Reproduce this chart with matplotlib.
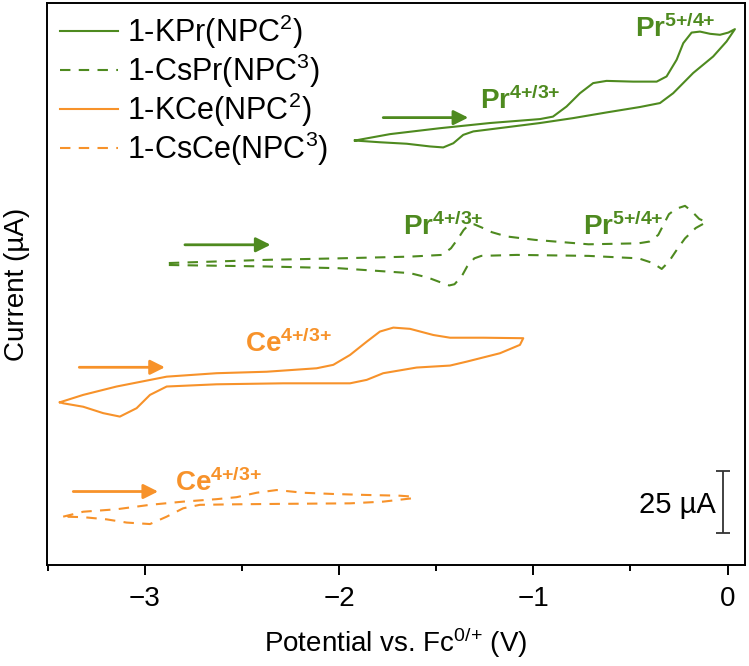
import matplotlib
matplotlib.use("Agg")
import matplotlib.pyplot as plt
from matplotlib.lines import Line2D

plt.rcParams['font.family'] = ['Liberation Sans', 'DejaVu Sans']
plt.rcParams['mathtext.fontset'] = 'custom'
plt.rcParams['mathtext.rm'] = 'Liberation Sans'
plt.rcParams['mathtext.it'] = 'Liberation Sans:italic'
plt.rcParams['mathtext.bf'] = 'Liberation Sans:bold'

GREEN = '#4e8a1f'
ORANGE = '#f7922a'

# ---- data (potential in V vs Fc, current in uA relative to trace offset) ----
kpr_E = [-1.919, -1.738, -1.481, -1.224, -0.966, -0.899, -0.829, -0.760, -0.692, -0.623,
         -0.486, -0.365, -0.314, -0.262, -0.228, -0.185, -0.142, -0.090, -0.039, 0.004, 0.038,
         -0.005, -0.074, -0.177, -0.280, -0.348, -0.451, -0.623, -0.795, -0.966, -1.137,
         -1.309, -1.361, -1.412, -1.464, -1.532, -1.652, -1.790, -1.919]
kpr_I = [2.2, 4.8, 7.2, 9.3, 10.9, 11.9, 16.0, 21.4, 25.5, 26.4,
         26.1, 26.1, 28.2, 35.0, 41.7, 46.0, 46.4, 45.5, 45.1, 46.0, 47.4,
         42.4, 36.3, 29.6, 21.4, 17.4, 15.8, 13.6, 11.3, 9.3, 7.6,
         5.9, 4.5, 1.1, -0.6, -0.2, 0.9, 1.5, 2.2]

cspr_E = [-2.877, -2.371, -2.003, -1.635, -1.470, -1.424, -1.387, -1.359, -1.332, -1.304,
          -1.268, -1.213, -1.139, -0.992, -0.716, -0.458, -0.403, -0.357, -0.330, -0.302,
          -0.265, -0.219, -0.183, -0.146, -0.109,
          -0.164, -0.219, -0.256, -0.302, -0.339, -0.385, -0.458, -0.716, -1.084, -1.268,
          -1.304, -1.341, -1.369, -1.406, -1.433, -1.479, -1.543, -1.635, -2.003, -2.371, -2.877]
cspr_I = [2.5, 3.8, 4.4, 5.1, 5.8, 8.5, 12.5, 15.9, 18.0, 18.2,
          17.0, 15.0, 13.3, 11.9, 10.1, 10.5, 11.2, 13.9, 18.0, 22.3,
          24.5, 25.7, 23.4, 20.4, 19.1,
          16.7, 12.5, 8.5, 3.1, 0.1, 2.5, 4.4, 5.4, 5.8, 5.4,
          4.4, 1.1, -2.9, -6.1, -6.6, -5.3, -3.4, -1.6, 0.4, 1.1, 1.7]

kce_E = [-3.438, -3.318, -3.146, -2.888, -2.631, -2.373, -2.116, -2.030, -1.944, -1.858,
         -1.790, -1.721, -1.635, -1.515, -1.429, -1.258, -1.052,
         -1.069, -1.172, -1.343, -1.429, -1.601, -1.773, -1.858, -1.944, -2.288, -2.631,
         -2.888, -2.974, -3.043, -3.129, -3.215, -3.318, -3.421, -3.438]
kce_I = [1.0, 4.0, 7.4, 11.4, 12.8, 13.4, 14.8, 16.2, 20.2, 25.6,
         29.7, 31.3, 30.8, 28.3, 27.2, 27.2, 27.0,
         24.3, 20.9, 17.5, 15.9, 15.1, 12.8, 10.1, 8.7, 8.7, 8.3,
         7.4, 4.0, -1.4, -4.8, -3.4, -0.8, 0.6, 1.0]

csce_E = [-3.421, -3.318, -3.146, -2.974, -2.803, -2.631, -2.528, -2.425, -2.322, -2.185,
          -2.030, -1.858, -1.687, -1.618,
          -1.618, -1.773, -1.944, -2.288, -2.545, -2.717, -2.803, -2.888, -2.974, -3.094,
          -3.197, -3.318, -3.421]
csce_I = [-0.4, 1.6, 2.6, 4.4, 5.7, 6.7, 7.5, 9.3, 10.4, 9.3,
          8.8, 8.4, 8.1, 7.7,
          7.1, 5.7, 5.0, 4.8, 4.6, 4.4, 3.0, -0.4, -3.4, -2.8,
          -1.5, -0.6, -0.4]

labels = ['1-KPr(NPC$^2$)', '1-CsPr(NPC$^3$)', '1-KCe(NPC$^2$)', '1-CsCe(NPC$^3$)']
offsets = [170, 120, 65, 20]
colors = [GREEN, GREEN, ORANGE, ORANGE]
styles = ['-', '--', '-', '--']
series = [(kpr_E, kpr_I), (cspr_E, cspr_I), (kce_E, kce_I), (csce_E, csce_I)]

# scan-direction arrows (start E, end E, current) per trace
arrows = [(-1.773, -1.335, 181.5), (-2.794, -2.353, 129.9),
          (-3.338, -2.897, 80.2), (-3.369, -2.932, 29.8)]

# redox labels: (text, E, I, color)
redox = [(r'$\mathbf{Pr}^{\mathbf{4{+}/3{+}}}$', -1.275, 184.9, GREEN),
         (r'$\mathbf{Pr}^{\mathbf{5{+}/4{+}}}$', -0.477, 214.4, GREEN),
         (r'$\mathbf{Pr}^{\mathbf{4{+}/3{+}}}$', -1.671, 133.9, GREEN),
         (r'$\mathbf{Pr}^{\mathbf{5{+}/4{+}}}$', -0.745, 133.9, GREEN),
         (r'$\mathbf{Ce}^{\mathbf{4{+}/3{+}}}$', -2.485, 86.3, ORANGE),
         (r'$\mathbf{Ce}^{\mathbf{4{+}/3{+}}}$', -2.845, 30.0, ORANGE)]

xticks = [-3, -2, -1, 0]
xtick_labels = ['\u22123', '\u22122', '\u22121', '0']

fig = plt.figure(figsize=(7.49, 6.66), dpi=100)
ax = fig.add_axes([0.0623, 0.1517, 0.9324, 0.8438])

handles = []
for (E, I), off, c, ls, lab in zip(series, offsets, colors, styles, labels):
    y = [v + off for v in I]
    if ls == '--':
        ax.plot(E, y, color=c, lw=1.5, dashes=(5, 4))
    else:
        ax.plot(E, y, color=c, lw=1.5)
    handles.append(Line2D([], [], color=c, lw=1.5,
                          dashes=(5, 4) if ls == '--' else (None, None), label=lab))

for (x0, x1, yy), c in zip(arrows, colors):
    ax.annotate('', xy=(x1, yy), xytext=(x0, yy),
                arrowprops=dict(arrowstyle='-|>', color=c, lw=2, mutation_scale=22,
                                shrinkA=0, shrinkB=0))

for txt, xx, yy, c in redox:
    ax.text(xx, yy, txt, color=c, fontsize=20, ha='left', va='baseline')

# scale bar 25 uA
ax.errorbar([-0.024], [25.5], yerr=[12.5], color='#333333', lw=1.3, capsize=5, capthick=1.3)
ax.text(-0.062, 24.4, '25 \u00b5A', fontsize=21, ha='right', va='center')

ax.set_xlim(-3.506, 0.09)
ax.set_ylim(0, 228)
ax.set_xticks(xticks)
ax.set_xticklabels(xtick_labels)
ax.set_xticks([-3.5, -2.5, -1.5, -0.5], minor=True)
ax.set_yticks([])
ax.tick_params(axis='x', which='major', length=7, width=1.4, labelsize=20, pad=8, direction='out')
ax.tick_params(axis='x', which='minor', length=4, width=1.4, direction='out')
for s in ax.spines.values():
    s.set_linewidth(1.4)

ax.set_xlabel('Potential vs. Fc$^{0/{+}}$ (V)', fontsize=20, labelpad=10)
ax.set_ylabel('Current (\u00b5A)', fontsize=20, labelpad=12)

ax.legend(handles=handles, loc='upper left', bbox_to_anchor=(-0.003, 1.01), frameon=False,
          fontsize=22, handlelength=1.9, handletextpad=0.3, labelspacing=0.02,
          borderaxespad=0.3, borderpad=0.2)

fig.savefig('out.png', dpi=100)
